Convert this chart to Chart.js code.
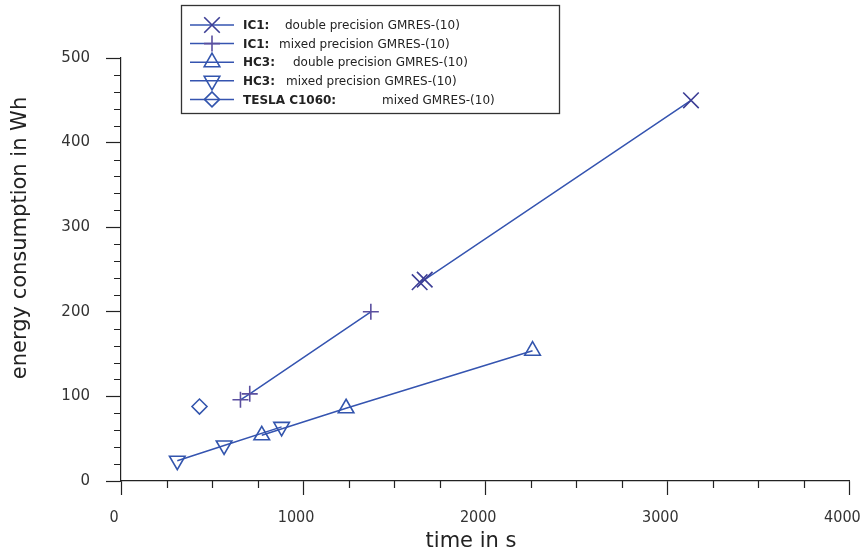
<!DOCTYPE html>
<html>
<head>
<meta charset="utf-8">
<script src="https://cdn.jsdelivr.net/npm/chart.js"></script>
<style>
body { margin: 0; background: #fff; }
#wrap { width: 862px; height: 559px; }
</style>
</head>
<body>
<div id="wrap"><canvas id="chart" width="862" height="559"></canvas></div>
<script>
// series values (time in s, energy in Wh)
var ic1DoubleTime = [1640, 1668, 3130];
var ic1DoubleEnergy = [235, 238, 450];
var ic1MixedTime = [656, 707, 1372];
var ic1MixedEnergy = [96, 103, 200];
var hc3DoubleTime = [773, 1236, 2260];
var hc3DoubleEnergy = [54, 86, 154];
var hc3MixedTime = [309, 566, 882];
var hc3MixedEnergy = [24, 42, 64];
var teslaTime = [431];
var teslaEnergy = [88];

// legend texts: bold part and normal part
var legendBold = ['IC1:', 'IC1:', 'HC3:', 'HC3:', 'TESLA C1060:'];
var legendText = ['double precision GMRES-(10)', 'mixed precision GMRES-(10)',
    'double precision GMRES-(10)', 'mixed precision GMRES-(10)', 'mixed GMRES-(10)'];
var legendTextX = [285, 279, 293, 286, 382];

var xTicks = [0, 1000, 2000, 3000, 4000];
var yTicks = [0, 100, 200, 300, 400, 500];

var lineColor = '#3554b0';
var markerStyle = ['crossRot', 'cross', 'triangle', 'triangle', 'rectRot'];
var markerRot = [0, 0, 0, 180, 0];
var markerSize = [11, 8, 9, 9, 7.5];
var markerColor = ['#3d3f96', '#5a4f9f', '#3355ad', '#3355ad', '#3355ad'];

function pts(xs, ys) {
    var out = [];
    for (var i = 0; i < xs.length; i++) out.push({x: xs[i], y: ys[i]});
    return out;
}

var seriesData = [
    pts(ic1DoubleTime, ic1DoubleEnergy),
    pts(ic1MixedTime, ic1MixedEnergy),
    pts(hc3DoubleTime, hc3DoubleEnergy),
    pts(hc3MixedTime, hc3MixedEnergy),
    pts(teslaTime, teslaEnergy)
];

var datasets = [];
for (var s = 0; s < seriesData.length; s++) {
    datasets.push({
        label: legendBold[s] + ' ' + legendText[s],
        data: seriesData[s],
        showLine: seriesData[s].length > 1,
        borderColor: lineColor,
        borderWidth: 1.5,
        pointStyle: markerStyle[s],
        rotation: markerRot[s],
        pointRadius: markerSize[s],
        pointBorderColor: markerColor[s],
        pointBackgroundColor: 'rgba(0,0,0,0)',
        pointBorderWidth: 1.6,
        tension: 0
    });
}

function drawMarker(ctx, style, rot, r, x, y) {
    ctx.beginPath();
    if (style == 'crossRot') {
        var d = r * Math.SQRT1_2;
        ctx.moveTo(x - d, y - d); ctx.lineTo(x + d, y + d);
        ctx.moveTo(x - d, y + d); ctx.lineTo(x + d, y - d);
    } else if (style == 'cross') {
        ctx.moveTo(x - r, y); ctx.lineTo(x + r, y);
        ctx.moveTo(x, y - r); ctx.lineTo(x, y + r);
    } else if (style == 'triangle') {
        var a = rot * Math.PI / 180;
        for (var k = 0; k < 3; k++) {
            var t = a + k * 2 * Math.PI / 3;
            var px = x + Math.sin(t) * r, py = y - Math.cos(t) * r;
            if (k == 0) ctx.moveTo(px, py); else ctx.lineTo(px, py);
        }
        ctx.closePath();
    } else {
        ctx.moveTo(x - r, y); ctx.lineTo(x, y - r); ctx.lineTo(x + r, y); ctx.lineTo(x, y + r);
        ctx.closePath();
    }
    ctx.stroke();
}

var extras = {
    id: 'extras',
    afterDraw: function (chart) {
        var ctx = chart.ctx;
        var xs = chart.scales.x, ys = chart.scales.y;
        ctx.save();
        // minor ticks
        ctx.strokeStyle = '#222';
        ctx.lineWidth = 1.2;
        ctx.beginPath();
        for (var v = 0; v <= 4000; v += 250) {
            if (v % 1000 == 0) continue;
            var px = Math.round(xs.getPixelForValue(v)) + 0.5;
            ctx.moveTo(px, ys.bottom); ctx.lineTo(px, ys.bottom + 7);
        }
        for (var w = 0; w <= 500; w += 20) {
            if (w % 100 == 0) continue;
            var py = Math.round(ys.getPixelForValue(w)) + 0.5;
            ctx.moveTo(xs.left, py); ctx.lineTo(xs.left - 7, py);
        }
        ctx.stroke();

        // axis titles
        ctx.fillStyle = '#222';
        ctx.font = '21px "DejaVu Sans"';
        ctx.textAlign = 'center';
        ctx.textBaseline = 'middle';
        ctx.fillText('time in s', 471, 542);
        ctx.translate(21, 238);
        ctx.rotate(-Math.PI / 2);
        ctx.fillText('energy consumption in Wh', 0, 0);
        ctx.restore();

        // legend box
        ctx.save();
        ctx.fillStyle = '#fff';
        ctx.fillRect(181.5, 5.5, 378, 108);
        ctx.strokeStyle = '#333';
        ctx.lineWidth = 1.3;
        ctx.strokeRect(181.5, 5.5, 378, 108);
        for (var i = 0; i < legendBold.length; i++) {
            var ly = 25 + i * 18.6;
            ctx.strokeStyle = lineColor;
            ctx.lineWidth = 1.5;
            ctx.beginPath();
            ctx.moveTo(190, ly); ctx.lineTo(234, ly);
            ctx.stroke();
            ctx.strokeStyle = markerColor[i];
            ctx.lineWidth = 1.6;
            drawMarker(ctx, markerStyle[i], markerRot[i], markerSize[i], 212, ly);
            ctx.fillStyle = '#222';
            ctx.textAlign = 'left';
            ctx.textBaseline = 'middle';
            ctx.font = 'bold 12px "DejaVu Sans"';
            ctx.fillText(legendBold[i], 243, ly + 1);
            ctx.font = '12px "DejaVu Sans"';
            ctx.fillText(legendText[i], legendTextX[i], ly + 1);
        }
        ctx.restore();
    }
};

var ctx = document.getElementById('chart').getContext('2d');
var myChart = new Chart(ctx, {
    type: 'scatter',
    data: { datasets: datasets },
    options: {
        responsive: false,
        animation: false,
        layout: { padding: { top: 58, right: 11, left: 0, bottom: 0 } },
        plugins: { legend: { display: false }, tooltip: { enabled: false } },
        scales: {
            x: {
                type: 'linear',
                min: 0, max: 4000,
                afterBuildTicks: function (scale) {
                    scale.ticks = xTicks.map(function (v) { return {value: v}; });
                },
                afterFit: function (scale) {
                    scale.height = 78;
                    scale.paddingLeft = 0;
                    scale.paddingRight = 0;
                },
                grid: { drawOnChartArea: false, tickLength: 14, tickColor: '#222', tickWidth: 1.2 },
                border: { color: '#222', width: 1.2 },
                ticks: {
                    color: '#333', padding: 13, maxRotation: 0, labelOffset: -7,
                    font: { family: '"DejaVu Sans Condensed", "DejaVu Sans"', size: 16 },
                    callback: function (value) { return String(value); }
                }
            },
            y: {
                type: 'linear',
                min: 0, max: 500,
                afterBuildTicks: function (scale) {
                    scale.ticks = yTicks.map(function (v) { return {value: v}; });
                },
                afterFit: function (scale) {
                    scale.width = 121;
                    scale.paddingTop = 0;
                    scale.paddingBottom = 0;
                },
                grid: { drawOnChartArea: false, tickLength: 15, tickColor: '#222', tickWidth: 1.2 },
                border: { color: '#222', width: 1.2 },
                ticks: {
                    color: '#333', padding: 16,
                    font: { family: 'DejaVu Sans', size: 15 },
                    callback: function (value) { return String(value); }
                }
            }
        }
    },
    plugins: [extras]
});
</script>
</body>
</html>
